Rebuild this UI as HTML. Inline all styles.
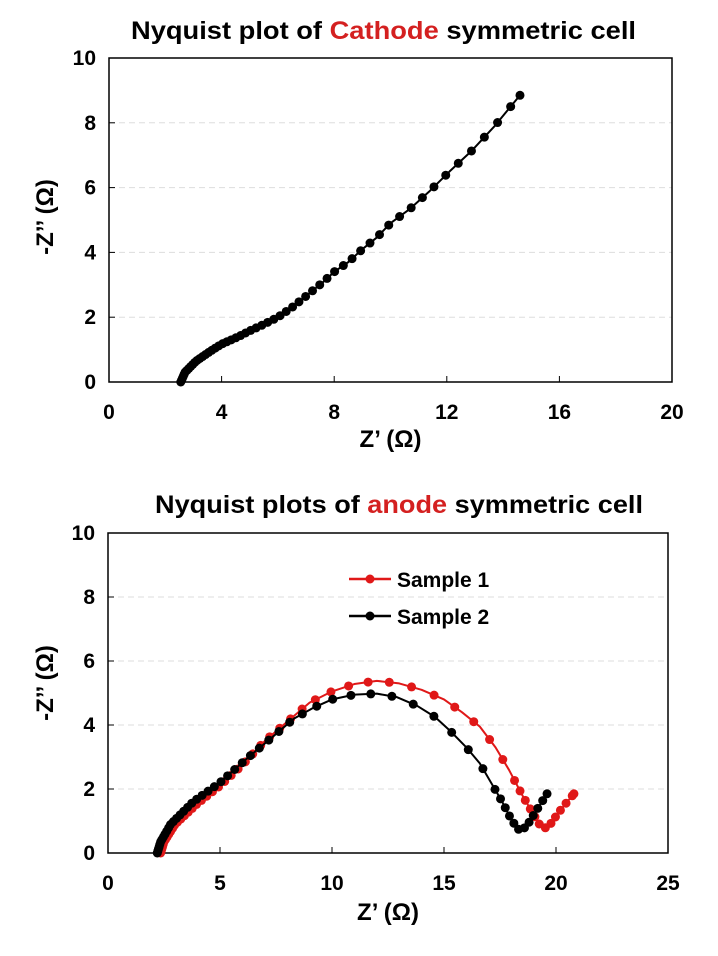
<!DOCTYPE html>
<html><head><meta charset="utf-8"><style>
body{margin:0;background:#fff}
svg text{font-family:"Liberation Sans",sans-serif;font-weight:bold}
</style></head><body>
<svg id="s" width="718" height="951" xmlns="http://www.w3.org/2000/svg">
<rect width="718" height="951" fill="#fff"/>
<text x="131" y="39" font-size="25" textLength="505" lengthAdjust="spacingAndGlyphs">Nyquist plot of <tspan fill="#d42020">Cathode</tspan> symmetric cell</text>
<text x="155" y="513" font-size="25" textLength="488" lengthAdjust="spacingAndGlyphs">Nyquist plots of <tspan fill="#d42020">anode</tspan> symmetric cell</text>
<g id="g"></g>
</svg>
<script>
var NS="http://www.w3.org/2000/svg",G=document.getElementById("g");
function el(t,a,txt){var e=document.createElementNS(NS,t);for(var k in a)e.setAttribute(k,a[k]);if(txt!=null)e.textContent=txt;G.appendChild(e);return e;}
function axes(L,R,T,B,xmax,xstep,ymax,ylabY,xlabY){
  for(var v=2;v<ymax;v+=2){var y=B-(B-T)*v/ymax;el("line",{x1:L,x2:R,y1:y,y2:y,stroke:"#ddd","stroke-dasharray":"6,4","stroke-width":1});}
  el("rect",{x:L,y:T,width:R-L,height:B-T,fill:"none",stroke:"#000","stroke-width":1.5});
  for(var v=0;v<=ymax;v+=2){var y=B-(B-T)*v/ymax;el("line",{x1:L,x2:L+6,y1:y,y2:y,stroke:"#000"});el("text",{x:L-13,y:y+7,"font-size":21,"text-anchor":"end"},v);}
  for(var v=0;v<=xmax;v+=xstep){var x=L+(R-L)*v/xmax;el("line",{x1:x,x2:x,y1:B,y2:B-6,stroke:"#000"});el("text",{x:x,y:B+37,"font-size":21,"text-anchor":"middle"},v);}
  el("text",{x:(L+R)/2,y:xlabY,"font-size":24,"text-anchor":"middle"},"Z\u2019  (\u03A9)");
  el("text",{x:0,y:0,"font-size":24,"text-anchor":"middle",transform:"translate(53,"+ylabY+") rotate(-90)"},"-Z\u2019\u2019 (\u03A9)");
}
function series(pts,L,R,T,B,xmax,ymax,col,r,stepf){
  var P=pts.map(function(p){return [L+(R-L)*p[0]/xmax,B-(B-T)*p[1]/ymax];});
  el("polyline",{points:P.map(function(p){return p.join(",")}).join(" "),fill:"none",stroke:col,"stroke-width":2,"stroke-linejoin":"round"});
  var s=0,next=0;
  for(var i=0;i<P.length-1;i++){var dx=P[i+1][0]-P[i][0],dy=P[i+1][1]-P[i][1],d=Math.hypot(dx,dy);
    while(next<=s+d){var t=(next-s)/d;var x=P[i][0]+dx*t,y=P[i][1]+dy*t;el("circle",{cx:x,cy:y,r:r,fill:col});
      var dv=pts[i][0]+(pts[i+1][0]-pts[i][0])*t, yv=pts[i][1]+(pts[i+1][1]-pts[i][1])*t;
      next+=stepf(next,dv,yv);}
    s+=d;}
  el("circle",{cx:P[P.length-1][0],cy:P[P.length-1][1],r:r,fill:col});
}
// top
axes(109,672,58,382,20,4,10,217,447);
series([[2.55,0],[2.7,0.3],[3.1,0.65],[3.6,0.95],[4,1.17],[4.6,1.4],[5,1.58],[5.5,1.78],[6,2.0],[6.5,2.3],[7,2.65],[7.6,3.08],[8,3.4],[8.5,3.7],[9,4.1],[9.5,4.45],[10,4.9],[10.7,5.35],[11.4,5.9],[12.1,6.5],[12.9,7.15],[13.7,7.9],[14.6,8.85]],109,672,58,382,20,10,"#000",4.5,
 function(s){return Math.min(2+s*0.045,27);});
// bottom
axes(108,668,533,853,25,5,10,683,920);
var red=[[2.35,0],[2.5,0.35],[3,0.9],[4,1.55],[5,2.1],[6,2.75],[7,3.5],[8,4.1],[9,4.7],[10,5.05],[11,5.28],[12,5.38],[13,5.3],[14,5.1],[15,4.8],[15.8,4.4],[16.6,3.95],[17.3,3.3],[17.9,2.6],[18.5,1.8],[19,1.2],[19.3,0.85],[19.5,0.78],[19.7,0.85],[20.1,1.25],[20.5,1.6],[20.8,1.85]];
var blk=[[2.2,0],[2.35,0.35],[2.8,0.9],[3.8,1.6],[5,2.2],[6.2,2.95],[7.3,3.6],[8.3,4.2],[9.2,4.55],[10,4.8],[11,4.95],[12,4.98],[12.9,4.87],[13.8,4.6],[14.6,4.25],[15.3,3.8],[16,3.3],[16.6,2.8],[17.1,2.2],[17.6,1.6],[18,1.05],[18.3,0.75],[18.45,0.7],[18.7,0.85],[19.1,1.3],[19.6,1.85]];
function bstep(xe){return function(s,x,y){var st=Math.min(2+s*0.07,24);if(x>xe-1.5&&y<2.6)st=Math.min(st,5+y*3);return st;};}
series(red,108,668,533,853,25,10,"#e01818",4.5,bstep(19.5));
series(blk,108,668,533,853,25,10,"#000",4.5,bstep(18.45));
el("line",{x1:349,x2:391,y1:579,y2:579,stroke:"#e01818","stroke-width":2.5});el("circle",{cx:370,cy:579,r:4.5,fill:"#e01818"});
el("text",{x:397,y:587,"font-size":21},"Sample 1");
el("line",{x1:349,x2:391,y1:616,y2:616,stroke:"#000","stroke-width":2.5});el("circle",{cx:370,cy:616,r:4.5,fill:"#000"});
el("text",{x:397,y:624,"font-size":21},"Sample 2");
</script>
</body></html>
